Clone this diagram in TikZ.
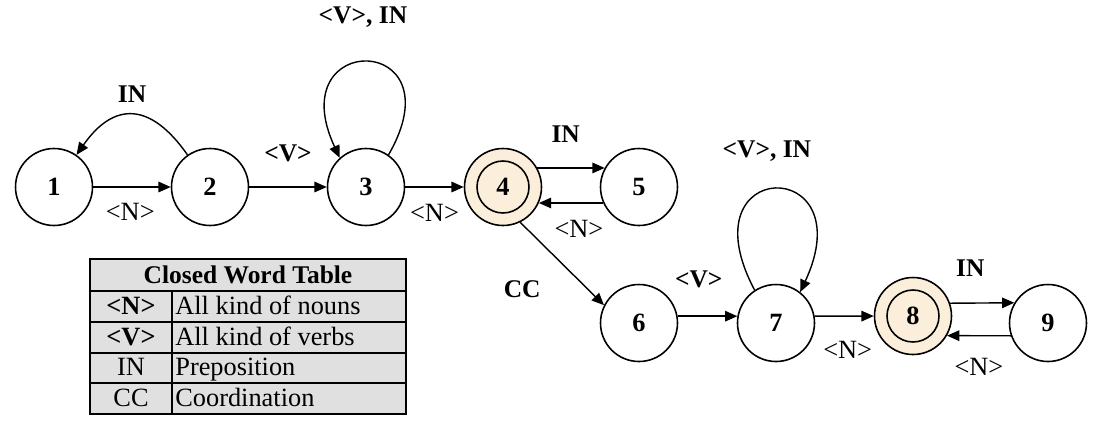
\documentclass[tikz,border=0pt]{standalone}
\usepackage{fontspec}
\setmainfont{Liberation Serif}
\usepackage{xcolor}
\usepackage{tikz}
\usetikzlibrary{arrows.meta}
\definecolor{finalbeige}{RGB}{251,239,219}
\definecolor{tablegray}{RGB}{224,224,224}
\tikzset{
	statenode/.style = {circle, draw=black, line width=0.9pt, fill=white, minimum size=1.54cm, inner sep=0pt, font=\fontsize{15}{18}\selectfont\bfseries},
	finalnode/.style = {statenode, fill=finalbeige, path picture={\draw[line width=0.9pt] (path picture bounding box.center) circle[radius=0.52cm];}},
	trans/.style = {-{Triangle[length=7pt,width=6pt]}, line width=0.8pt},
	lbl/.style = {inner sep=0pt, font=\fontsize{14.5}{17}\selectfont\bfseries},
	lbln/.style = {inner sep=0pt, font=\fontsize{15}{18}\selectfont},
	tabtext/.style = {inner sep=0pt, font=\fontsize{15}{18}\selectfont},
}

\begin{document}
\begin{tikzpicture}[x=0.02cm, y=0.02cm]
	\useasboundingbox (0,0) rectangle (1103,-424);

	\node[statenode] (n1) at (54,-187) {1};
	\node[statenode] (n2) at (210,-187) {2};
	\node[statenode] (n3) at (366,-187) {3};
	\node[finalnode] (n4) at (503,-187) {4};
	\node[statenode] (n5) at (639,-187) {5};
	\node[statenode] (n6) at (639,-323) {6};
	\node[statenode] (n7) at (776,-323) {7};
	\node[finalnode] (n8) at (913,-316) {8};
	\node[statenode] (n9) at (1048,-323) {9};

	\path (n1) edge[trans] node[lbln, yshift=-14pt, xshift=-1pt]{<N>} (n2);
	\path (n2) edge[trans, out=125, in=55, looseness=1.5] node[lbl, yshift=12pt]{IN} (n1);
	\path (n2) edge[trans] node[lbl, yshift=19pt]{<V>} (n3);
	\path (n3.55) edge[trans, out=60, in=115, looseness=7.4] node[lbl, yshift=26pt, xshift=-3pt]{<V>, IN} (n3.132);
	\path (n3) edge[trans] node[lbln, yshift=-15pt]{<N>} (n4);
	\path (n4.29) edge[trans] node[lbl, yshift=19pt, xshift=-3pt]{IN} (n5.151);
	\path (n5.204) edge[trans] node[lbln, yshift=-15pt, xshift=4.5pt]{<N>} (n4.-24);
	\path (n4.-64) edge[trans] node[lbl, xshift=-22.7pt, yshift=-14.5pt]{CC} (n6.153);
	\path (n6.10) edge[trans] node[lbl, yshift=21pt, xshift=-5pt]{<V>} (n7.170);
	\path (n7.123) edge[trans, out=118, in=65, looseness=8.5] node[lbl, yshift=21.5pt, xshift=-4.5pt]{<V>, IN} (n7.52);
	\path (n7.10) edge[trans] node[lbln, yshift=-19pt, xshift=2pt]{<N>} (n8);
	\path (n8.19.5) edge[trans] node[lbl, yshift=20pt, xshift=-6.8pt]{IN} (n9.149.2);
	\path (n9.199.5) edge[trans] node[lbln, yshift=-17.5pt]{<N>} (n8.-30.8);

	% closed word table
	\fill[tablegray] (90,-259) rectangle (406,-414);
	\draw[line width=0.8pt] (90,-259) rectangle (406,-414);
	\foreach \y in {291,322,353,383}
		\draw[line width=0.8pt] (90,-\y) -- (406,-\y);
	\draw[line width=0.8pt] (172,-291) -- (172,-414);
	\node[tabtext, font=\fontsize{14.5}{17}\selectfont\bfseries, anchor=base] (tabtitle) at (248,-283) {Closed Word Table};
	\foreach \key/\desc/\y [count=\i] in {{\textbf{<N>}}/All kind of nouns/314, {\textbf{<V>}}/All kind of verbs/345, IN/Preposition/375, CC/Coordination/406} {
		\node[tabtext, anchor=base] (key\i) at (131,-\y) {\key};
		\node[tabtext, anchor=base west] (desc\i) at (175,-\y) {\desc};
	}
\end{tikzpicture}
\end{document}
